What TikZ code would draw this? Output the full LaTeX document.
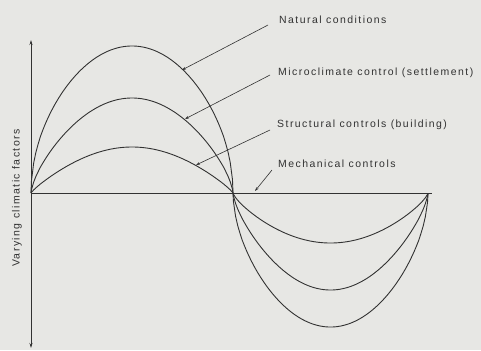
\documentclass[tikz,border=0pt]{standalone}
\usepackage{fontspec}
\setmainfont{Liberation Sans}
\newfontfamily\tagfont[LetterSpace=14]{Liberation Sans}
\usetikzlibrary{arrows.meta}
\definecolor{paper}{RGB}{231,231,228}
\definecolor{ink}{RGB}{50,50,50}
\tikzset{
  wave/.style={ink, line width=0.9bp},
  axisline/.style={ink, line width=1bp},
  leader/.style={ink, line width=0.6bp, -{Stealth[length=4bp,width=2.6bp]}},
  tag/.style={font=\tagfont\fontsize{10.5}{12}\selectfont, text=ink, anchor=base west, inner sep=0pt},
}
\begin{document}
\begin{tikzpicture}[x=1bp, y=-1bp]

% ================================================================
%  Fondo y caja — 481 x 350 (y hacia abajo)
% ================================================================
\fill[paper] (0,0) rectangle (481,350);
\useasboundingbox (0,0) rectangle (481,350);

% Ejes
\draw[axisline, {Stealth[length=5bp,width=3bp]}-{Stealth[length=5bp,width=3bp]}] (31,40) -- (31,348);
\draw[axisline] (31,193) -- (432,193);

% Semiondas superiores: amplitud / exponente
\foreach \amp/\pw in {147/0.5, 95/0.68, 46/0.85}{
    \draw[wave] (31,193) -- plot[domain=0.002:0.998, samples=90]
        ({31+202*\x}, {193-\amp*abs(sin(180*\x))^\pw}) -- (233,193);
}

% Semiondas inferiores
\foreach \amp/\pw in {134/0.55, 97/0.7, 50/0.75}{
    \draw[wave] (233,193) -- plot[domain=0.002:0.998, samples=90]
        ({233+195*\x}, {193+\amp*abs(sin(180*\x))^\pw}) -- (428,194);
}

% Etiquetas
\node[tag] (nat)    at (279,23)  {Natural conditions};
\node[tag] (micro)  at (278,75)  {Microclimate control (settlement)};
\node[tag] (struct) at (277,127) {Structural controls (building)};
\node[tag] (mech)   at (278,167) {Mechanical controls};
\node[tag, anchor=center, rotate=90] (vary) at (17,198) {Varying climatic factors};

% Puntos sobre las curvas
\coordinate (natpt)    at (182,70);
\coordinate (micropt)  at (185,119);
\coordinate (structpt) at (196,165);
\coordinate (mechpt)   at (255,191);

% Líneas de referencia
\draw[leader] ([xshift=-11bp,yshift=-2bp]nat.base west)    -- (natpt);
\draw[leader] ([xshift=-8bp]micro.base west)               -- (micropt);
\draw[leader] ([xshift=-7bp,yshift=-3bp]struct.base west)  -- (structpt);
\draw[leader] ([xshift=-6bp,yshift=-3bp]mech.base west)    -- (mechpt);

\end{tikzpicture}
\end{document}
